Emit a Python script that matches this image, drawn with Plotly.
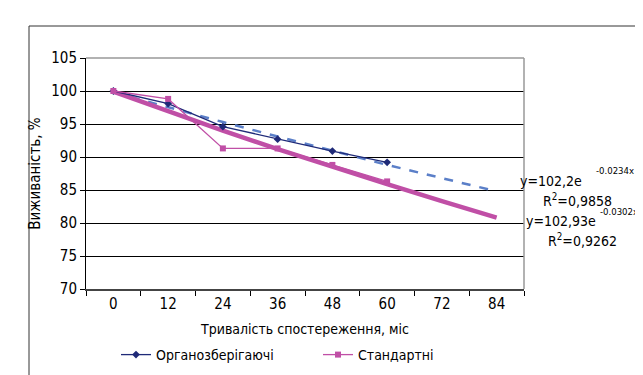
import plotly.graph_objects as go

months = ["0", "12", "24", "36", "48", "60", "72", "84"]
organ = [100, 98.1, 94.6, 92.7, 90.9, 89.2]
standard = [100, 98.8, 91.3, 91.3, 88.8, 86.3]
organ_trend = [99.8, 97.5, 95.3, 93.1, 90.9, 88.8, 86.8, 84.8]
standard_trend = [99.9, 96.9, 94.0, 91.2, 88.5, 85.9, 83.3, 80.8]
y_ticks = [70, 75, 80, 85, 90, 95, 100, 105]

FONT = "Liberation Sans Narrow, Arial Narrow, DejaVu Sans Condensed, sans-serif"
BLUE = "#1f2a78"
MAG = "#c04fa6"

fig = go.Figure()
fig.add_trace(go.Scatter(x=months, y=organ_trend, mode="lines", showlegend=False,
                         line=dict(color="#5b7fc8", width=2.5, dash="dash"), hoverinfo="skip"))
fig.add_trace(go.Scatter(x=months, y=standard_trend, mode="lines", showlegend=False,
                         line=dict(color=MAG, width=4.5), hoverinfo="skip"))
fig.add_trace(go.Scatter(x=months[:len(organ)], y=organ, mode="lines+markers",
                         name="Органозберігаючі",
                         line=dict(color=BLUE, width=1.3),
                         marker=dict(symbol="diamond", size=6, color=BLUE)))
fig.add_trace(go.Scatter(x=months[:len(standard)], y=standard, mode="lines+markers",
                         name="Стандартні",
                         line=dict(color=MAG, width=1.3),
                         marker=dict(symbol="square", size=6, color=MAG)))

L, R, T, B = 78, 516, 50, 281
W, H = 643, 375
pw, ph = R - L, B - T

def px(x):
    return (x - L) / pw

def py(y):
    return (B - y) / ph

fig.update_layout(
    width=W, height=H,
    margin=dict(l=L, r=W - R, t=T, b=H - B),
    paper_bgcolor="white", plot_bgcolor="white",
    font=dict(family=FONT, size=15, color="black"),
    showlegend=True,
    legend=dict(orientation="h", x=px(108), y=py(347), xanchor="left", yanchor="middle",
                font=dict(size=14), entrywidth=157, itemwidth=30,
                bgcolor="rgba(0,0,0,0)"),
    xaxis=dict(type="category", categoryorder="array", categoryarray=months,
               range=[-0.5, 7.5], tickson="boundaries", ticks="outside", ticklen=5,
               tickcolor="black", showgrid=False, showline=True, linecolor="#444",
               linewidth=2, tickfont=dict(size=15), zeroline=False,
               title=dict(text="Тривалість спостереження, міс", font=dict(size=14), standoff=12)),
    yaxis=dict(range=[70, 105], tickvals=y_ticks, ticks="outside", ticklen=5, tickcolor="black",
               showgrid=True, gridcolor="black", gridwidth=1, showline=True, linecolor="black",
               linewidth=1, zeroline=False, tickfont=dict(size=15),
               title=dict(text="Виживаність, %", font=dict(size=15), standoff=6)),
)

# plot area border (top and right) in grey
fig.add_shape(type="line", xref="paper", yref="paper", x0=0, x1=1, y0=1, y1=1,
              line=dict(color="#999", width=1.5))
fig.add_shape(type="line", xref="paper", yref="paper", x0=1, x1=1, y0=0, y1=1,
              line=dict(color="#999", width=1.5))
# outer frame
fig.add_shape(type="line", xref="paper", yref="paper", x0=px(21), x1=px(643), y0=py(18), y1=py(18),
              line=dict(color="#333", width=1))
fig.add_shape(type="line", xref="paper", yref="paper", x0=px(21), x1=px(21), y0=py(18), y1=py(375),
              line=dict(color="#333", width=1))

ann = [
    ("y=102,2e", 510, 173, 14),
    ("-0.0234x", 586, 162, 9.5),
    ("R<sup>2</sup>=0,9858", 533, 192, 14),
    ("y=102,93e", 516, 213, 14),
    ("-0.0302x", 590, 203, 9.5),
    ("R<sup>2</sup>=0,9262", 538, 232, 14),
]
for text, x, y, size in ann:
    fig.add_annotation(text=text, xref="paper", yref="paper", x=px(x), y=py(y),
                       xanchor="left", yanchor="middle", showarrow=False,
                       font=dict(size=size, family=FONT, color="black"))

fig.write_html("out.html")
